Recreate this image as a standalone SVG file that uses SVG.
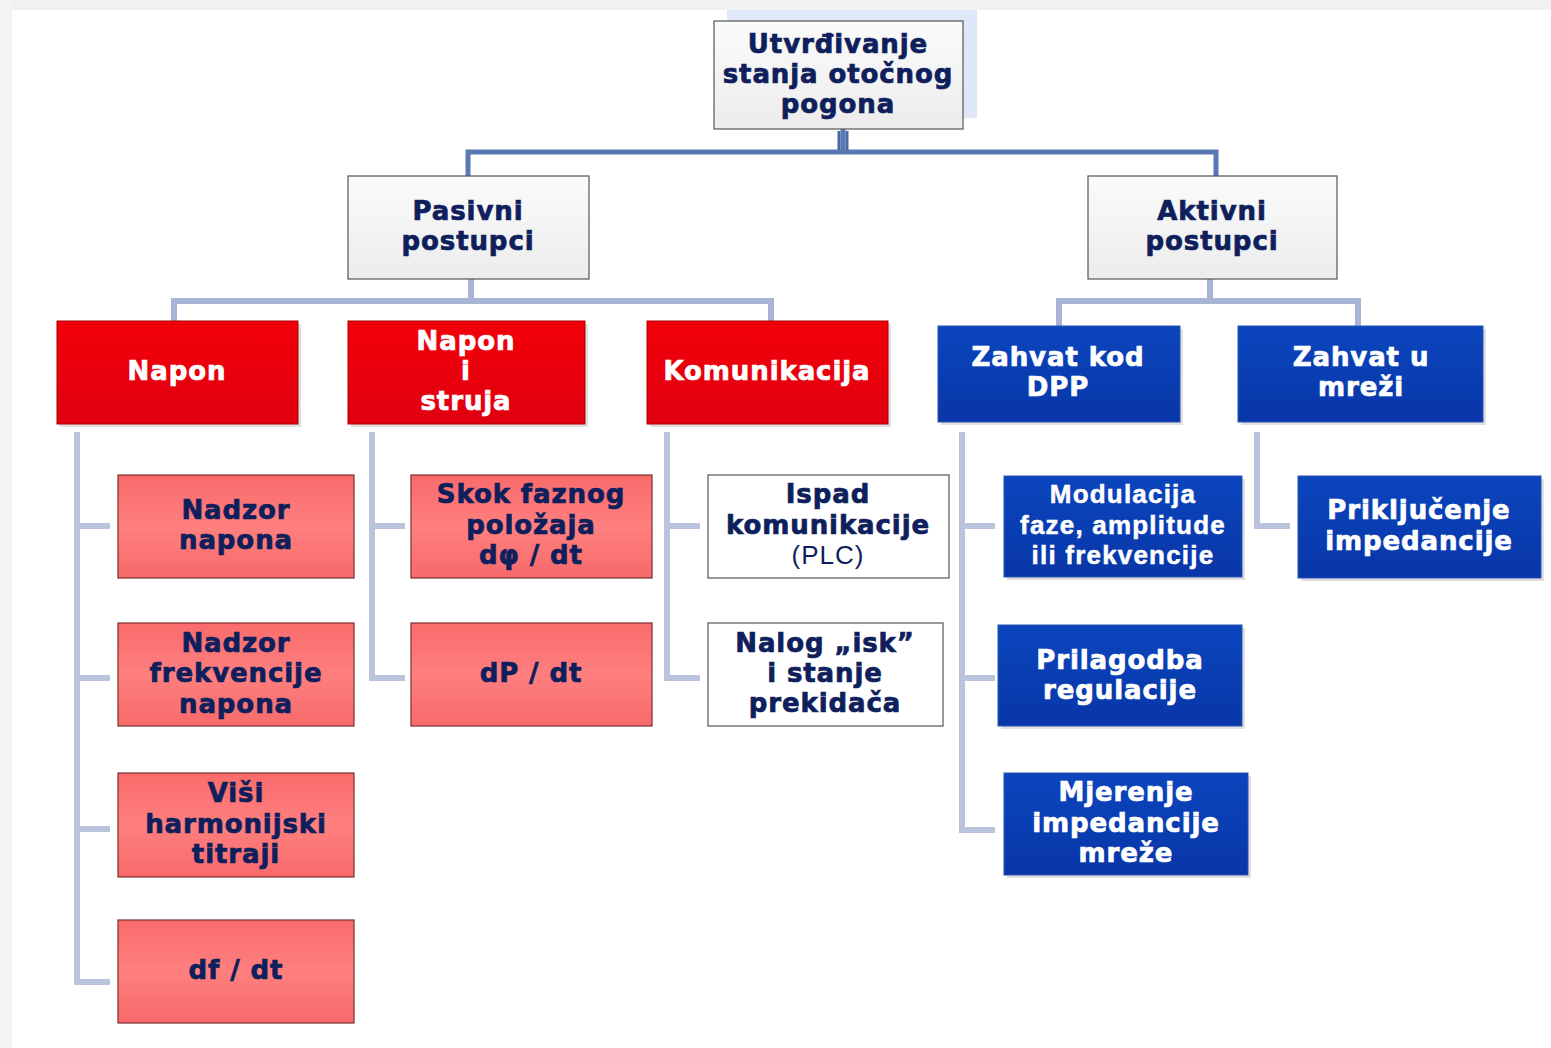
<svg xmlns="http://www.w3.org/2000/svg" width="1551" height="1048" viewBox="0 0 1551 1048">
<defs>
<linearGradient id="gGray" x1="0" y1="0" x2="0" y2="1"><stop offset="0" stop-color="#fbfbfb"/><stop offset="1" stop-color="#ececec"/></linearGradient>
<linearGradient id="gRed" x1="0" y1="0" x2="0" y2="1"><stop offset="0" stop-color="#f2000a"/><stop offset="1" stop-color="#e00010"/></linearGradient>
<linearGradient id="gPink" x1="0" y1="0" x2="0" y2="1"><stop offset="0" stop-color="#f96b6b"/><stop offset="0.5" stop-color="#ff7f7f"/><stop offset="1" stop-color="#f76a6a"/></linearGradient>
<linearGradient id="gBlue" x1="0" y1="0" x2="0" y2="1"><stop offset="0" stop-color="#0b45bd"/><stop offset="1" stop-color="#0836a8"/></linearGradient>
<style>
.t{font-family:"DejaVu Sans","Verdana",sans-serif;font-weight:bold;font-size:26px;letter-spacing:0.9px;text-anchor:middle;stroke-width:0.7px}
.a{font-family:"Liberation Sans",Arial,sans-serif;font-weight:bold;font-size:26px;letter-spacing:1.2px;text-anchor:middle;stroke-width:0.5px}
.r{font-family:"Liberation Sans",Arial,sans-serif;font-weight:normal;font-size:26px;letter-spacing:1px;text-anchor:middle}
.n{fill:#0f1f5c;stroke:#0f1f5c}
.w{fill:#ffffff;stroke:#ffffff}
.r.n{stroke:none}
.gray{fill:url(#gGray);stroke:#555;stroke-width:1.2}
.red{fill:url(#gRed);stroke:#a00;stroke-width:1}
.pink{fill:url(#gPink);stroke:#7a3030;stroke-width:1.2}
.white{fill:#fff;stroke:#555;stroke-width:1.2}
.blue{fill:url(#gBlue);stroke:#2a55b0;stroke-width:1}
.sh{fill:#000;opacity:0.12}
.c1{fill:none;stroke:#5a78b4;stroke-width:5}
.c2{fill:none;stroke:#a9b5d6;stroke-width:6}
.c3{fill:none;stroke:#b9c3dc;stroke-width:6}
</style>
</defs>
<rect x="0" y="0" width="1551" height="1048" fill="#ffffff"/>
<rect x="0" y="0" width="1551" height="10" fill="#f1f1f1"/>
<rect x="0" y="0" width="12" height="1048" fill="#f3f3f3"/>
<rect x="727" y="10" width="250" height="108" fill="#dfe7f8"/>

<g id="connectors">
<path class="c1" d="M843,129 V152 M468,176 V152 H1216 V176"/>
<path d="M839,131 V150 M847,131 V150" stroke="#4a68a4" stroke-width="3"/>
<path class="c2" d="M471,279 V301 M174,321 V301 H771 V321"/>
<path class="c2" d="M1210,279 V301 M1059,326 V301 H1358 V326"/>
<path class="c3" d="M77,432 V982 H110 M77,526 H110 M77,678 H110 M77,829 H110"/>
<path class="c3" d="M372,432 V678 H405 M372,526 H405"/>
<path class="c3" d="M667,432 V678 H700 M667,526 H700"/>
<path class="c3" d="M962,432 V830 H995 M962,526 H995 M962,678 H995"/>
<path class="c3" d="M1257,432 V526 H1290"/>
</g>

<g id="n-root"><rect class="gray" x="714" y="21" width="249" height="108"/>
<text class="t n" x="838" y="53">Utvrđivanje</text><text class="t n" x="838" y="83">stanja otočnog</text><text class="t n" x="838" y="113">pogona</text></g>

<g id="n-pasivni"><rect class="gray" x="348" y="176" width="241" height="103"/>
<text class="t n" x="468" y="220">Pasivni</text><text class="t n" x="468" y="250">postupci</text></g>
<g id="n-aktivni"><rect class="gray" x="1088" y="176" width="249" height="103"/>
<text class="t n" x="1212" y="220">Aktivni</text><text class="t n" x="1212" y="250">postupci</text></g>

<g id="n-napon"><rect class="sh" x="60" y="324" width="241" height="103"/><rect class="red" x="57" y="321" width="241" height="103"/>
<text class="t w" x="177" y="380">Napon</text></g>
<g id="n-napon-struja"><rect class="sh" x="351" y="324" width="237" height="103"/><rect class="red" x="348" y="321" width="237" height="103"/>
<text class="t w" x="466" y="350">Napon</text><text class="t w" x="466" y="380">i</text><text class="t w" x="466" y="410">struja</text></g>
<g id="n-komunikacija"><rect class="sh" x="650" y="324" width="241" height="103"/><rect class="red" x="647" y="321" width="241" height="103"/>
<text class="t w" x="767" y="380">Komunikacija</text></g>
<g id="n-zahvat-dpp"><rect class="sh" x="941" y="329" width="242" height="96"/><rect class="blue" x="938" y="326" width="242" height="96"/>
<text class="t w" x="1058" y="366">Zahvat kod</text><text class="t w" x="1058" y="396">DPP</text></g>
<g id="n-zahvat-mreza"><rect class="sh" x="1241" y="329" width="245" height="96"/><rect class="blue" x="1238" y="326" width="245" height="96"/>
<text class="t w" x="1361" y="366">Zahvat u</text><text class="t w" x="1361" y="396">mreži</text></g>

<g id="n-nadzor-napona"><rect class="pink" x="118" y="475" width="236" height="103"/>
<text class="t n" x="236" y="519">Nadzor</text><text class="t n" x="236" y="549">napona</text></g>
<g id="n-nadzor-frekv"><rect class="pink" x="118" y="623" width="236" height="103"/>
<text class="t n" x="236" y="652">Nadzor</text><text class="t n" x="236" y="682">frekvencije</text><text class="t n" x="236" y="713">napona</text></g>
<g id="n-visi-harm"><rect class="pink" x="118" y="773" width="236" height="104"/>
<text class="t n" x="236" y="802">Viši</text><text class="t n" x="236" y="833">harmonijski</text><text class="t n" x="236" y="863">titraji</text></g>
<g id="n-dfdt"><rect class="pink" x="118" y="920" width="236" height="103"/>
<text class="t n" x="236" y="979">df / dt</text></g>

<g id="n-skok"><rect class="pink" x="411" y="475" width="241" height="103"/>
<text class="t n" x="531" y="503">Skok faznog</text><text class="t n" x="531" y="534">položaja</text><text class="t n" x="531" y="564">dφ / dt</text></g>
<g id="n-dPdt"><rect class="pink" x="411" y="623" width="241" height="103"/>
<text class="t n" x="531" y="682">dP / dt</text></g>

<g id="n-ispad"><rect class="white" x="708" y="475" width="241" height="103"/>
<text class="t n" x="828" y="503">Ispad</text><text class="t n" x="828" y="534">komunikacije</text><text class="r n" x="828" y="564">(PLC)</text></g>
<g id="n-nalog"><rect class="white" x="708" y="623" width="235" height="103"/>
<text class="t n" x="825" y="652">Nalog „isk”</text><text class="t n" x="825" y="682">i stanje</text><text class="t n" x="825" y="712">prekidača</text></g>

<g id="n-modulacija"><rect class="sh" x="1007" y="479" width="238" height="101"/><rect class="blue" x="1004" y="476" width="238" height="101"/>
<text class="a w" x="1123" y="503">Modulacija</text><text class="a w" x="1123" y="534">faze, amplitude</text><text class="a w" x="1123" y="564">ili frekvencije</text></g>
<g id="n-prilagodba"><rect class="sh" x="1001" y="628" width="244" height="101"/><rect class="blue" x="998" y="625" width="244" height="101"/>
<text class="t w" x="1120" y="669">Prilagodba</text><text class="t w" x="1120" y="699">regulacije</text></g>
<g id="n-mjerenje"><rect class="sh" x="1007" y="776" width="244" height="102"/><rect class="blue" x="1004" y="773" width="244" height="102"/>
<text class="t w" x="1126" y="801">Mjerenje</text><text class="t w" x="1126" y="832">impedancije</text><text class="t w" x="1126" y="862">mreže</text></g>
<g id="n-prikljucenje"><rect class="sh" x="1301" y="479" width="243" height="102"/><rect class="blue" x="1298" y="476" width="243" height="102"/>
<text class="t w" x="1419" y="519">Priključenje</text><text class="t w" x="1419" y="550">impedancije</text></g>
</svg>
